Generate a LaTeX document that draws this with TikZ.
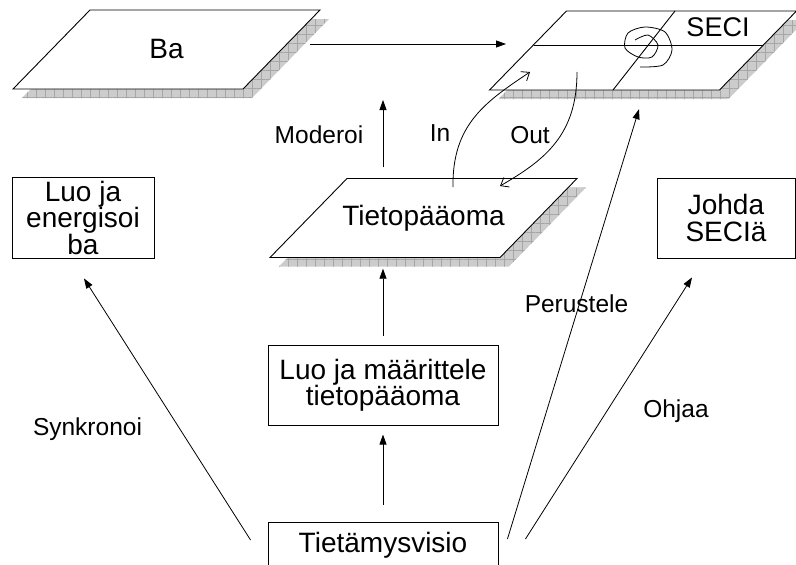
\documentclass[tikz,border=0pt]{standalone}
\usepackage{fontspec}
\setmainfont{Liberation Sans}
\usetikzlibrary{positioning,arrows.meta,patterns.meta}

\tikzset{
  plate/.style={draw, fill=white, line width=0.9pt},
  plateshadow/.style={fill=gray!40,
    postaction={pattern={Hatch[angle=0,distance=9pt,line width=0.5pt]}, pattern color=gray!70}},
  platetext/.style={minimum width=230pt, minimum height=79pt, inner sep=0pt,
    font=\fontsize{28}{28}\selectfont},
  box/.style={draw, rectangle, align=center, inner sep=0pt, line width=0.9pt,
    font=\fontsize{28}{26.5}\selectfont},
  lbl/.style={anchor=base, inner sep=0pt, font=\fontsize{24.5}{24.5}\selectfont},
  arr/.style={line width=0.8pt, -{Triangle[length=10pt,width=7pt]}},
  barb/.style={line width=0.8pt, -{Straight Barb[length=7pt,width=11pt]}},
}

% name, position, text
\newcommand{\platenode}[3]{%
  \begin{scope}[shift={#2}]
    \fill[plateshadow] (-144.5,48.5) -- (-67.5,-30.5) -- (162.5,-30.5) -- (85.5,48.5) -- cycle;
    \draw[plate] (-153.5,39.5) -- (-76.5,-39.5) -- (153.5,-39.5) -- (76.5,39.5) -- cycle;
  \end{scope}
  \node[platetext] (#1) at #2 {#3};
}

\begin{document}
\begin{tikzpicture}[x=1pt, y=-1pt, node distance=96pt]
  \useasboundingbox (0,0) rectangle (796,565);

  % plates
  \platenode{ba}{(166.5,49.5)}{Ba}
  \platenode{seci}{(643,50.5)}{}
  \platenode{tieto}{(423.5,218)}{Tietopääoma}

  % boxes
  \node[box, minimum width=142pt, minimum height=81pt] (luoba) at (83,217.5) {Luo ja\\energisoi\\ba};
  \node[box, minimum width=138pt, minimum height=80pt] (johda) at (726,218) {Johda\\SECIä};
  \node[box, minimum width=230pt, minimum height=46pt] (visio) at (383,545) {Tietämysvisio};
  \node[box, minimum width=230pt, minimum height=80pt, above=of visio] (luotp) {Luo ja määrittele\\tietopääoma};

  % labels
  \node[lbl, font=\fontsize{27}{27}\selectfont] (secit) at ([shift={(75,-14)}]seci.center) {SECI};
  \node[lbl] (moderoi) at (319,143)   {Moderoi};
  \node[lbl] (inlbl)   at (440,141)   {In};
  \node[lbl] (outlbl)  at (530,143)   {Out};
  \node[lbl] (synk)    at (87.5,435)  {Synkronoi};
  \node[lbl] (perus)   at (576.5,312) {Perustele};
  \node[lbl] (ohjaa)   at (676,417)   {Ohjaa};

  % SECI quadrants
  \draw[line width=0.9pt] ([shift={(-109,-5.5)}]seci.center) -- ([shift={(120,-5.5)}]seci.center);
  \draw[line width=0.9pt] ([shift={(32,-39.5)}]seci.center) -- ([shift={(-30,39.5)}]seci.center);
  \draw[line width=0.8pt, shift={(seci.center)}] plot[smooth] coordinates {(-8,-10.5) (5,-15.5) (15,-5.5) (9,6.5) (-5,6.5) (-18,-2.5) (-15,-17.5) (2,-23.5) (22,-18.5) (29,-0.5) (20,14.5) (-3,16.5)};

  \coordinate (moder) at (383,100);

  % connectors
  \draw[arr] ([shift={(143.5,-5.5)}]ba.center) -- ([shift={(-137,-6.5)}]seci.center);
  \draw[arr, shorten <=11pt] (luotp.north |- tieto.north) -- (moder);
  \draw[arr, shorten <=9pt, shorten >=11pt] (luotp) -- (luotp.north |- tieto.south);
  \draw[arr, shorten <=17pt, shorten >=9pt] (visio) -- (luotp);
  \draw[arr] ([shift={(-17,-5)}]visio.west) -- ([shift={(1,20)}]luoba.south);
  \draw[arr] ([shift={(9,-6)}]visio.east) -- ([shift={(-4,19)}]seci.south);
  \draw[arr] ([shift={(27,-6)}]visio.east) -- ([shift={(-34,19)}]johda.south);

  % in and out
  \draw[barb] ([shift={(29.5,-31)}]tieto.center) .. controls +(-1,-62) and +(-45,30) .. ([shift={(-113,21.5)}]seci.center);
  \draw[barb] ([shift={(-66,21.5)}]seci.center) .. controls +(0,63) and +(45,-26) .. ([shift={(76.5,-32)}]tieto.center);
\end{tikzpicture}
\end{document}
